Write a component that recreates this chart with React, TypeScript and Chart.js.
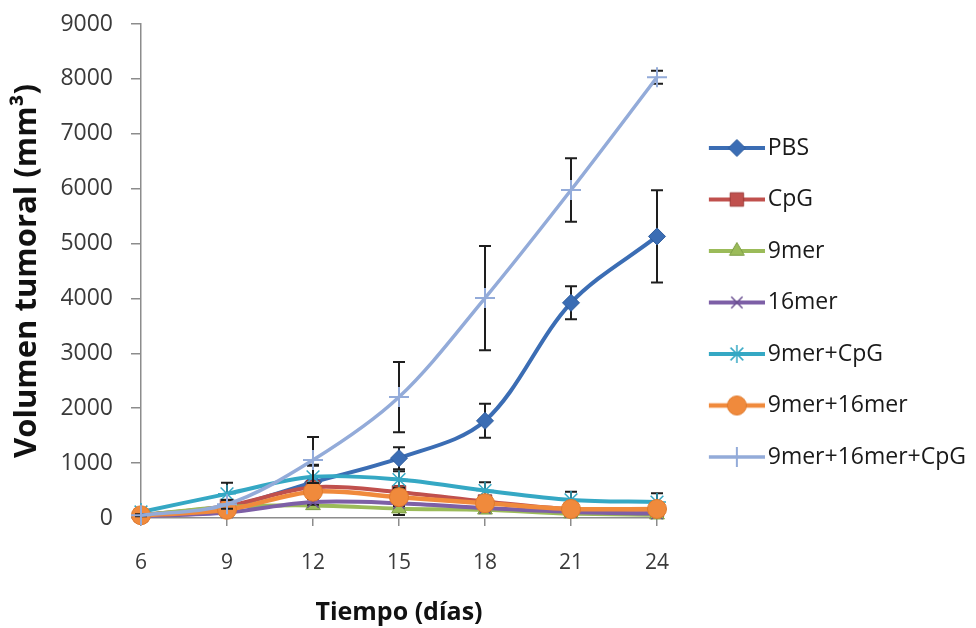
import React, { useEffect, useRef } from "react";
import { Chart, registerables } from "chart.js";

Chart.register(...registerables);

// ---------- data ----------
const days = [6, 9, 12, 15, 18, 21, 24];
const seriesNames = ["PBS", "CpG", "9mer", "16mer", "9mer+CpG", "9mer+16mer", "9mer+16mer+CpG"];

const pbs = [50, 200, 650, 1090, 1770, 3920, 5130];
const pbsErr = [20, 60, 300, 200, 310, 300, 840];
const cpg = [50, 220, 560, 470, 300, 160, 150];
const cpgErr = [20, 40, 80, 80, 60, 40, 30];
const mer9 = [50, 200, 230, 170, 150, 80, 60];
const mer9Err = [20, 40, 60, 115, 50, 30, 20];
const mer16 = [30, 100, 290, 270, 180, 110, 80];
const mer16Err = [15, 30, 50, 50, 40, 30, 20];
const mer9CpG = [110, 440, 750, 700, 500, 330, 290];
const mer9CpGErr = [40, 200, 220, 150, 150, 150, 160];
const mer9mer16 = [50, 150, 480, 380, 270, 165, 165];
const mer9mer16Err = [20, 40, 90, 80, 60, 40, 30];
const mer9mer16CpG = [50, 250, 1056, 2204, 4007, 5975, 8030];
const mer9mer16CpGErr = [20, 80, 420, 640, 950, 580, 120];

const yTicksMax = 9000;
const yTickStep = 1000;
const xTickStep = 3;

const seriesValues = [pbs, cpg, mer9, mer16, mer9CpG, mer9mer16, mer9mer16CpG];
const seriesErrors = [pbsErr, cpgErr, mer9Err, mer16Err, mer9CpGErr, mer9mer16Err, mer9mer16CpGErr];

// ---------- styles ----------
const colors = ["#3B6DB4", "#C0504D", "#9BBB59", "#7D5FA6", "#35A8C4", "#F08A3C", "#93ABD9"];
const markerBorder = ["#2F5D9E", "#9E3A37", "#7E9E45", "#6A4F91", "#35A8C4", "#E07A2C", "#93ABD9"];
const pointStyles = ["rectRot", "rect", "triangle", "crossRot", "star", "circle", "cross"];
const pointRadii = [8.5, 9.5, 8.5, 8, 9, 9.5, 10];
const lineWidths = [4, 4, 4, 4, 4, 4.5, 3.5];
const pointBorderWidths = [1, 1, 1, 1.5, 1.5, 1, 2];

const FONT = '"Open Sans", "DejaVu Sans", sans-serif';
const LEGEND_FONT_SIZE = 23;
const LEGEND_PAD = 28.5;

function drawMarker(
  ctx: CanvasRenderingContext2D,
  style: string,
  x: number,
  y: number,
  r: number,
  fill: string,
  stroke: string,
  bw: number
) {
  ctx.save();
  ctx.fillStyle = fill;
  ctx.strokeStyle = stroke;
  ctx.lineWidth = bw;
  ctx.beginPath();
  if (style === "rectRot") {
    ctx.moveTo(x, y - r);
    ctx.lineTo(x + r, y);
    ctx.lineTo(x, y + r);
    ctx.lineTo(x - r, y);
    ctx.closePath();
    ctx.fill();
    ctx.stroke();
  } else if (style === "rect") {
    const s = r * Math.SQRT1_2;
    ctx.rect(x - s, y - s, 2 * s, 2 * s);
    ctx.fill();
    ctx.stroke();
  } else if (style === "triangle") {
    for (let k = 0; k < 3; k++) {
      const a = (k * 2 * Math.PI) / 3;
      const px = x + Math.sin(a) * r;
      const py = y - Math.cos(a) * r;
      if (k === 0) ctx.moveTo(px, py);
      else ctx.lineTo(px, py);
    }
    ctx.closePath();
    ctx.fill();
    ctx.stroke();
  } else if (style === "circle") {
    ctx.arc(x, y, r, 0, Math.PI * 2);
    ctx.fill();
    ctx.stroke();
  } else {
    const segs: number[] = [];
    if (style === "cross" || style === "star") segs.push(0, Math.PI / 2);
    if (style === "crossRot" || style === "star") segs.push(Math.PI / 4, (3 * Math.PI) / 4);
    segs.forEach((a) => {
      ctx.moveTo(x - Math.cos(a) * r, y - Math.sin(a) * r);
      ctx.lineTo(x + Math.cos(a) * r, y + Math.sin(a) * r);
    });
    ctx.stroke();
  }
  ctx.restore();
}

function makeLegendImage(i: number, boxW: number): HTMLCanvasElement {
  const c = document.createElement("canvas");
  const W = Math.round(boxW + 17);
  const H = 30;
  c.width = W;
  c.height = H;
  const ctx = c.getContext("2d")!;
  const x0 = W - 56;
  ctx.strokeStyle = colors[i];
  ctx.lineWidth = lineWidths[i];
  ctx.beginPath();
  ctx.moveTo(x0, H / 2);
  ctx.lineTo(W, H / 2);
  ctx.stroke();
  drawMarker(ctx, pointStyles[i], W - 28, H / 2, pointRadii[i], colors[i], markerBorder[i], pointBorderWidths[i]);
  return c;
}

const errorBarPlugin = {
  id: "errorBars",
  beforeDatasetDraw(chart: any, args: any) {
    const i = args.index;
    const errs = seriesErrors[i];
    const vals = seriesValues[i];
    const xs = chart.scales.x;
    const ys = chart.scales.y;
    const ctx = chart.ctx as CanvasRenderingContext2D;
    ctx.save();
    ctx.strokeStyle = "#1e1e1e";
    ctx.lineWidth = 2;
    vals.forEach((v, j) => {
      const px = xs.getPixelForValue(days[j]);
      const top = ys.getPixelForValue(v + errs[j]);
      const bot = ys.getPixelForValue(Math.max(0, v - errs[j]));
      ctx.beginPath();
      ctx.moveTo(px, top);
      ctx.lineTo(px, bot);
      ctx.moveTo(px - 6, top);
      ctx.lineTo(px + 6, top);
      ctx.moveTo(px - 6, bot);
      ctx.lineTo(px + 6, bot);
      ctx.stroke();
    });
    ctx.restore();
  },
};

export default function App() {
  const ref = useRef<HTMLCanvasElement | null>(null);

  useEffect(() => {
    if (!ref.current) return;
    document.body.style.margin = "0";

    const m = document.createElement("canvas").getContext("2d")!;
    m.font = `${LEGEND_FONT_SIZE}px ${FONT}`;
    const tw = Math.max(...seriesNames.map((n) => m.measureText(n).width));
    const legendWidth = 976 - 657;
    const boxW = legendWidth - LEGEND_PAD - LEGEND_FONT_SIZE / 2 - 10 - tw;
    const legendImages = seriesNames.map((_, i) => makeLegendImage(i, boxW));

    Chart.defaults.font.family = FONT;

    const datasets = seriesNames.map((name, i) => ({
      label: name,
      data: seriesValues[i].map((v, j) => ({ x: days[j], y: v })),
      borderColor: colors[i],
      backgroundColor: colors[i],
      borderWidth: lineWidths[i],
      pointStyle: pointStyles[i],
      pointRadius: pointRadii[i],
      pointBackgroundColor: colors[i],
      pointBorderColor: markerBorder[i],
      pointBorderWidth: pointBorderWidths[i],
      tension: 0.33,
      fill: false,
      clip: false as any,
      order: seriesNames.length - i,
    }));

    const chart = new Chart(ref.current, {
      type: "line",
      data: { datasets },
      plugins: [errorBarPlugin],
      options: {
        animation: false,
        responsive: false,
        maintainAspectRatio: false,
        layout: { padding: { top: 24, right: 0, bottom: 0, left: 0 } },
        plugins: {
          tooltip: { enabled: false },
          legend: {
            position: "right",
            align: "start",
            maxWidth: 400,
            title: { display: true, text: "", font: { size: 10 }, padding: 36 },
            labels: {
              usePointStyle: true,
              pointStyleWidth: boxW,
              padding: LEGEND_PAD,
              color: "#1a1a1a",
              font: { size: LEGEND_FONT_SIZE, family: FONT },
              generateLabels: (c: any) =>
                c.data.datasets.map((ds: any, i: number) => ({
                  text: ds.label,
                  pointStyle: legendImages[i],
                  fillStyle: "rgba(0,0,0,0)",
                  strokeStyle: "rgba(0,0,0,0)",
                  lineWidth: 0,
                  hidden: false,
                  datasetIndex: i,
                  fontColor: "#1a1a1a",
                })),
            },
          },
        },
        scales: {
          x: {
            type: "linear",
            min: days[0],
            max: days[days.length - 1],
            ticks: {
              stepSize: xTickStep,
              padding: 24,
              color: "#3a3a3a",
              font: { size: 21, family: FONT },
            },
            grid: { drawOnChartArea: false, drawTicks: true, tickLength: 8, color: "#8c8c8c", lineWidth: 1.5 },
            border: { display: true, color: "#8c8c8c", width: 1.5 },
            title: {
              display: true,
              text: "Tiempo (días)",
              color: "#111",
              font: { size: 25, weight: "bold", family: FONT },
              padding: { top: 0, bottom: 0 },
            },
            afterFit: (s: any) => {
              s.height = 110;
            },
          },
          y: {
            type: "linear",
            min: 0,
            max: yTicksMax,
            ticks: {
              stepSize: yTickStep,
              padding: 18,
              color: "#3a3a3a",
              font: { size: 23, family: FONT },
              callback: (v: any) => String(v),
            },
            grid: { drawOnChartArea: false, drawTicks: true, tickLength: 10, color: "#8c8c8c", lineWidth: 1.5 },
            border: { display: true, color: "#8c8c8c", width: 1.5 },
            title: {
              display: true,
              text: "Volumen tumoral (mm³)",
              color: "#111",
              font: { size: 31, weight: "bold", family: FONT },
              padding: { top: 9, bottom: 0 },
            },
            afterFit: (s: any) => {
              s.width = 141;
              s.paddingTop = 14;
              s.paddingBottom = 14;
            },
          },
        },
      } as any,
    });

    return () => chart.destroy();
  }, []);

  return (
    <div style={{ position: "absolute", left: 0, top: 0, width: 976, height: 628, background: "#fff" }}>
      <canvas ref={ref} width={976} height={628} style={{ display: "block" }} />
    </div>
  );
}
